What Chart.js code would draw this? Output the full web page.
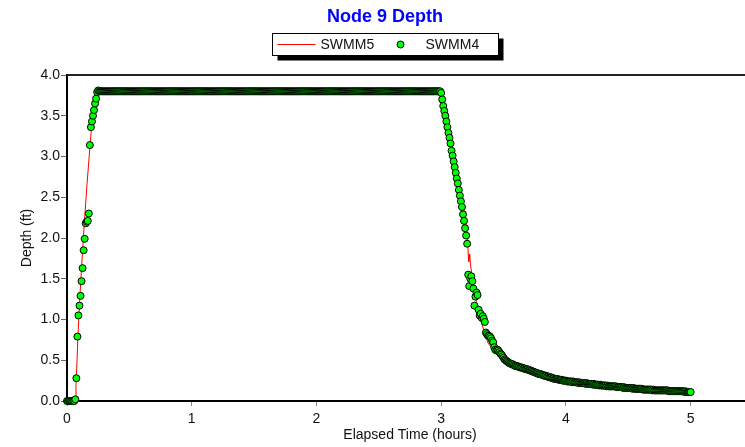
<!DOCTYPE html>
<html>
<head>
<meta charset="utf-8">
<title>Node 9 Depth</title>
<script src="https://cdn.jsdelivr.net/npm/chart.js@4.4.0/dist/chart.umd.min.js"></script>
<style>
  html, body { margin: 0; padding: 0; background: #fff; overflow: hidden; }
  #wrap { width: 770px; height: 447px; }
</style>
</head>
<body>
<div id="wrap"><canvas id="depthChart" width="770" height="447"></canvas></div>
<script>
var chartTitle = "Node 9 Depth";
var seriesNames = ["SWMM5", "SWMM4"];
var seriesColors = ["#ff0000", "#00ff00"];
var xTicks = [0, 1, 2, 3, 4, 5];
var yTicks = [0, 0.5, 1, 1.5, 2, 2.5, 3, 3.5, 4];

// SWMM5 depth (ft) at the listed times (hours)
var swmm5Hours = [0, 0.066, 0.072, 0.078, 0.088, 0.104, 0.12, 0.139, 0.16, 0.184,
  0.2, 0.216, 0.228, 0.238, 3.0, 3.01, 3.05, 3.1, 3.15, 3.2,
  3.21, 3.217, 3.221, 3.229, 3.235, 3.245, 3.283, 3.323, 3.376, 3.456,
  3.523, 3.6, 3.7, 3.8, 3.9, 4.0, 4.2, 4.4, 4.6, 4.8, 5.0];
var swmm5Depth = [0, 0, 0.2, 0.40, 0.80, 1.30, 1.72, 2.19, 2.65, 3.12,
  3.42, 3.68, 3.77, 3.80, 3.80, 3.73, 3.45, 3.03, 2.66, 2.18,
  2.05, 1.80, 1.71, 1.80, 1.67, 1.57, 1.20, 0.96, 0.71, 0.55,
  0.47, 0.42, 0.37, 0.32, 0.28, 0.25, 0.21, 0.18, 0.15, 0.13, 0.11];

// SWMM4 depth (ft), one value per 30 s report step from 0 to 5 hours
var swmm4StepMin = 0.5;
var swmm4Depth = [
  0, 0, 0, 0, 0, 0, 0, 0,
  0.02, 0.28, 0.79, 1.05, 1.17, 1.29, 1.47, 1.63, 1.85, 1.99, 2.18, 2.20, 2.21, 2.30,
  3.14, 3.36, 3.43, 3.50, 3.57, 3.65, 3.71, 3.79, 3.81,
  3.8,3.8,3.8,3.8,3.8,3.8,3.8,3.8,3.8,3.8,3.8,3.8,3.8,3.8,3.8,3.8,3.8,3.8,3.8,3.8,3.8,3.8,3.8,3.8,3.8,3.8,3.8,3.8,3.8,
  3.8,3.8,3.8,3.8,3.8,3.8,3.8,3.8,3.8,3.8,3.8,3.8,3.8,3.8,3.8,3.8,3.8,3.8,3.8,3.8,3.8,3.8,3.8,3.8,3.8,3.8,3.8,3.8,3.8,3.8,
  3.8,3.8,3.8,3.8,3.8,3.8,3.8,3.8,3.8,3.8,3.8,3.8,3.8,3.8,3.8,3.8,3.8,3.8,3.8,3.8,3.8,3.8,3.8,3.8,3.8,3.8,3.8,3.8,3.8,3.8,
  3.8,3.8,3.8,3.8,3.8,3.8,3.8,3.8,3.8,3.8,3.8,3.8,3.8,3.8,3.8,3.8,3.8,3.8,3.8,3.8,3.8,3.8,3.8,3.8,3.8,3.8,3.8,3.8,3.8,3.8,
  3.8,3.8,3.8,3.8,3.8,3.8,3.8,3.8,3.8,3.8,3.8,3.8,3.8,3.8,3.8,3.8,3.8,3.8,3.8,3.8,3.8,3.8,3.8,3.8,3.8,3.8,3.8,3.8,3.8,3.8,
  3.8,3.8,3.8,3.8,3.8,3.8,3.8,3.8,3.8,3.8,3.8,3.8,3.8,3.8,3.8,3.8,3.8,3.8,3.8,3.8,3.8,3.8,3.8,3.8,3.8,3.8,3.8,3.8,3.8,3.8,
  3.8,3.8,3.8,3.8,3.8,3.8,3.8,3.8,3.8,3.8,3.8,3.8,3.8,3.8,3.8,3.8,3.8,3.8,3.8,3.8,3.8,3.8,3.8,3.8,3.8,3.8,3.8,3.8,3.8,3.8,
  3.8,3.8,3.8,3.8,3.8,3.8,3.8,3.8,3.8,3.8,3.8,3.8,3.8,3.8,3.8,3.8,3.8,3.8,3.8,3.8,3.8,3.8,3.8,3.8,3.8,3.8,3.8,3.8,3.8,3.8,
  3.8,3.8,3.8,3.8,3.8,3.8,3.8,3.8,3.8,3.8,3.8,3.8,3.8,3.8,3.8,3.8,3.8,3.8,3.8,3.8,3.8,3.8,3.8,3.8,3.8,3.8,3.8,3.8,3.8,3.8,
  3.8,3.8,3.8,3.8,3.8,3.8,3.8,3.8,3.8,3.8,3.8,3.8,3.8,3.8,3.8,3.8,3.8,3.8,3.8,3.8,3.8,3.8,3.8,3.8,3.8,3.8,3.8,3.8,3.8,3.8,
  3.8,3.8,3.8,3.8,3.8,3.8,3.8,3.8,3.8,3.8,3.8,3.8,3.8,3.8,3.8,3.8,3.8,3.8,3.8,3.8,3.8,3.8,3.8,3.8,3.8,3.8,3.8,3.8,3.8,3.8,
  3.78, 3.70, 3.62, 3.56, 3.50, 3.43, 3.36, 3.29, 3.23, 3.16, 3.07, 3.01, 2.94,
  2.87, 2.80, 2.73, 2.67, 2.59, 2.52, 2.45, 2.38, 2.29, 2.21, 2.12, 2.03, 1.93,
  1.55, 1.41, 1.50, 1.53, 1.47, 1.38, 1.17, 1.28, 1.33, 1.30,
  1.12, 1.05, 1.07, 1.02, 1.04, 1.01, 0.97, 0.84, 0.82, 0.80,
  0.80, 0.79, 0.77, 0.74, 0.72, 0.66, 0.63, 0.62, 0.63, 0.62,
  0.60, 0.58, 0.57, 0.55, 0.53, 0.51, 0.50, 0.49, 0.48, 0.47, 0.46,
  0.46, 0.45, 0.45, 0.44, 0.43, 0.43,
  0.43, 0.42, 0.42, 0.41, 0.41, 0.41, 0.40, 0.40, 0.39, 0.39,
  0.39, 0.38, 0.38, 0.37, 0.37, 0.36, 0.36, 0.35, 0.35, 0.34, 0.34, 0.33, 0.33,
  0.33, 0.32, 0.32, 0.31, 0.31, 0.31, 0.30, 0.30, 0.29, 0.29, 0.29, 0.28, 0.28, 0.27, 0.27,
  0.27, 0.27, 0.26, 0.26, 0.26, 0.26, 0.25, 0.25, 0.25, 0.25,
  0.24, 0.24, 0.24, 0.24, 0.24, 0.23, 0.24, 0.23, 0.23, 0.23, 0.23, 0.22,
  0.23, 0.22, 0.22, 0.22, 0.22, 0.22, 0.21, 0.22, 0.21, 0.21, 0.21, 0.21,
  0.21, 0.20, 0.21, 0.20, 0.20, 0.20, 0.20, 0.19, 0.20, 0.19, 0.19, 0.19,
  0.19, 0.19, 0.18, 0.19, 0.18, 0.18, 0.18, 0.18, 0.18, 0.18, 0.18, 0.18,
  0.17, 0.17, 0.17, 0.17, 0.17, 0.17, 0.16, 0.17, 0.16, 0.16, 0.16, 0.16,
  0.16, 0.16, 0.16, 0.15, 0.16, 0.15, 0.15, 0.15, 0.15, 0.15, 0.15, 0.15,
  0.15, 0.14, 0.14, 0.14, 0.14, 0.14, 0.14, 0.14, 0.14, 0.14, 0.13, 0.14,
  0.13, 0.13, 0.13, 0.13, 0.13, 0.13, 0.13, 0.13, 0.13, 0.13, 0.13, 0.13,
  0.13, 0.13, 0.12, 0.12, 0.12, 0.12, 0.12, 0.12, 0.12, 0.12, 0.12, 0.12,
  0.12, 0.12, 0.12, 0.12, 0.12, 0.11, 0.12, 0.11, 0.11, 0.11, 0.11, 0.11
];

var swmm5Points = swmm5Hours.map(function (h, i) { return { x: h, y: swmm5Depth[i] }; });
var swmm4Points = swmm4Depth.map(function (d, i) { return { x: i * swmm4StepMin / 60, y: d }; });

Chart.defaults.font.family = "'Liberation Sans', Arial, sans-serif";
Chart.defaults.font.size = 14;
Chart.defaults.color = "#111";

// title + boxed legend with drop shadow, centred on the full picture width
var headerBox = {
  id: "headerBox",
  afterDraw: function (chart) {
    var ctx = chart.ctx;
    var cx = chart.width / 2;
    ctx.save();
    ctx.font = "bold 18px 'Liberation Sans', Arial, sans-serif";
    ctx.fillStyle = "#0000ff";
    ctx.textAlign = "center";
    ctx.textBaseline = "middle";
    ctx.fillText(chartTitle, cx, 17);

    var x0 = Math.round(cx - 113) + 0.5, y0 = 33.5, w = 226, h = 22;
    var my = y0 + h / 2;
    ctx.fillStyle = "#000";
    ctx.fillRect(x0 + 5, y0 + 5, w, h);
    ctx.fillStyle = "#fff";
    ctx.fillRect(x0, y0, w, h);
    ctx.strokeStyle = "#000";
    ctx.lineWidth = 1;
    ctx.strokeRect(x0, y0, w, h);
    ctx.strokeStyle = seriesColors[0];
    ctx.beginPath();
    ctx.moveTo(x0 + 5, my);
    ctx.lineTo(x0 + 43, my);
    ctx.stroke();
    ctx.font = "14px 'Liberation Sans', Arial, sans-serif";
    ctx.textAlign = "left";
    ctx.fillStyle = "#111";
    ctx.fillText(seriesNames[0], x0 + 48, my + 0.5);
    ctx.beginPath();
    ctx.arc(x0 + 128, my, 3.5, 0, Math.PI * 2);
    ctx.fillStyle = seriesColors[1];
    ctx.fill();
    ctx.strokeStyle = "#000";
    ctx.stroke();
    ctx.fillStyle = "#111";
    ctx.fillText(seriesNames[1], x0 + 153, my + 0.5);
    ctx.restore();
  }
};

// top edge of the plot frame
var topFrame = {
  id: "topFrame",
  beforeDatasetsDraw: function (chart) {
    var a = chart.chartArea, ctx = chart.ctx;
    ctx.save();
    ctx.strokeStyle = "#222";
    ctx.lineWidth = 2;
    ctx.beginPath();
    ctx.moveTo(a.left, a.top);
    ctx.lineTo(a.right + 20, a.top);
    ctx.stroke();
    ctx.restore();
  }
};

new Chart(document.getElementById("depthChart"), {
  type: "scatter",
  data: {
    datasets: [{
      label: seriesNames[0],
      data: swmm5Points,
      showLine: true,
      borderColor: seriesColors[0],
      borderWidth: 1,
      pointRadius: 0,
      order: 1
    }, {
      label: seriesNames[1],
      data: swmm4Points,
      showLine: false,
      backgroundColor: seriesColors[1],
      borderColor: "#000",
      borderWidth: 1,
      pointRadius: 3.5,
      clip: false,
      order: 0
    }]
  },
  options: {
    responsive: false,
    animation: false,
    devicePixelRatio: 1,
    layout: { padding: { left: 0, right: 17, top: 75, bottom: 0 } },
    plugins: {
      legend: { display: false },
      tooltip: { enabled: false },
      title: { display: false }
    },
    scales: {
      x: {
        type: "linear",
        min: 0,
        max: 5.5,
        afterBuildTicks: function (s) { s.ticks = xTicks.map(function (v) { return { value: v }; }); },
        afterFit: function (s) { s.height = 46; },
        grid: { drawOnChartArea: false, drawTicks: true, tickLength: 5, color: "#888" },
        border: { color: "#000", width: 2 },
        ticks: { padding: 5, autoSkip: false, maxRotation: 0, color: "#111" },
        title: { display: true, text: "Elapsed Time (hours)", color: "#111", padding: { top: 0, bottom: 3.6 } }
      },
      y: {
        min: 0,
        max: 4,
        afterBuildTicks: function (s) { s.ticks = yTicks.map(function (v) { return { value: v }; }); },
        afterFit: function (s) { s.width = 67; },
        grid: { drawOnChartArea: false, drawTicks: true, tickLength: 6, color: "#666" },
        border: { color: "#000", width: 2 },
        ticks: { padding: 1, color: "#111", callback: function (v) { return Number(v).toFixed(1); } },
        title: { display: true, text: "Depth (ft)", color: "#111", padding: { top: 18.6, bottom: 0 } }
      }
    }
  },
  plugins: [headerBox, topFrame]
});
</script>
</body>
</html>
